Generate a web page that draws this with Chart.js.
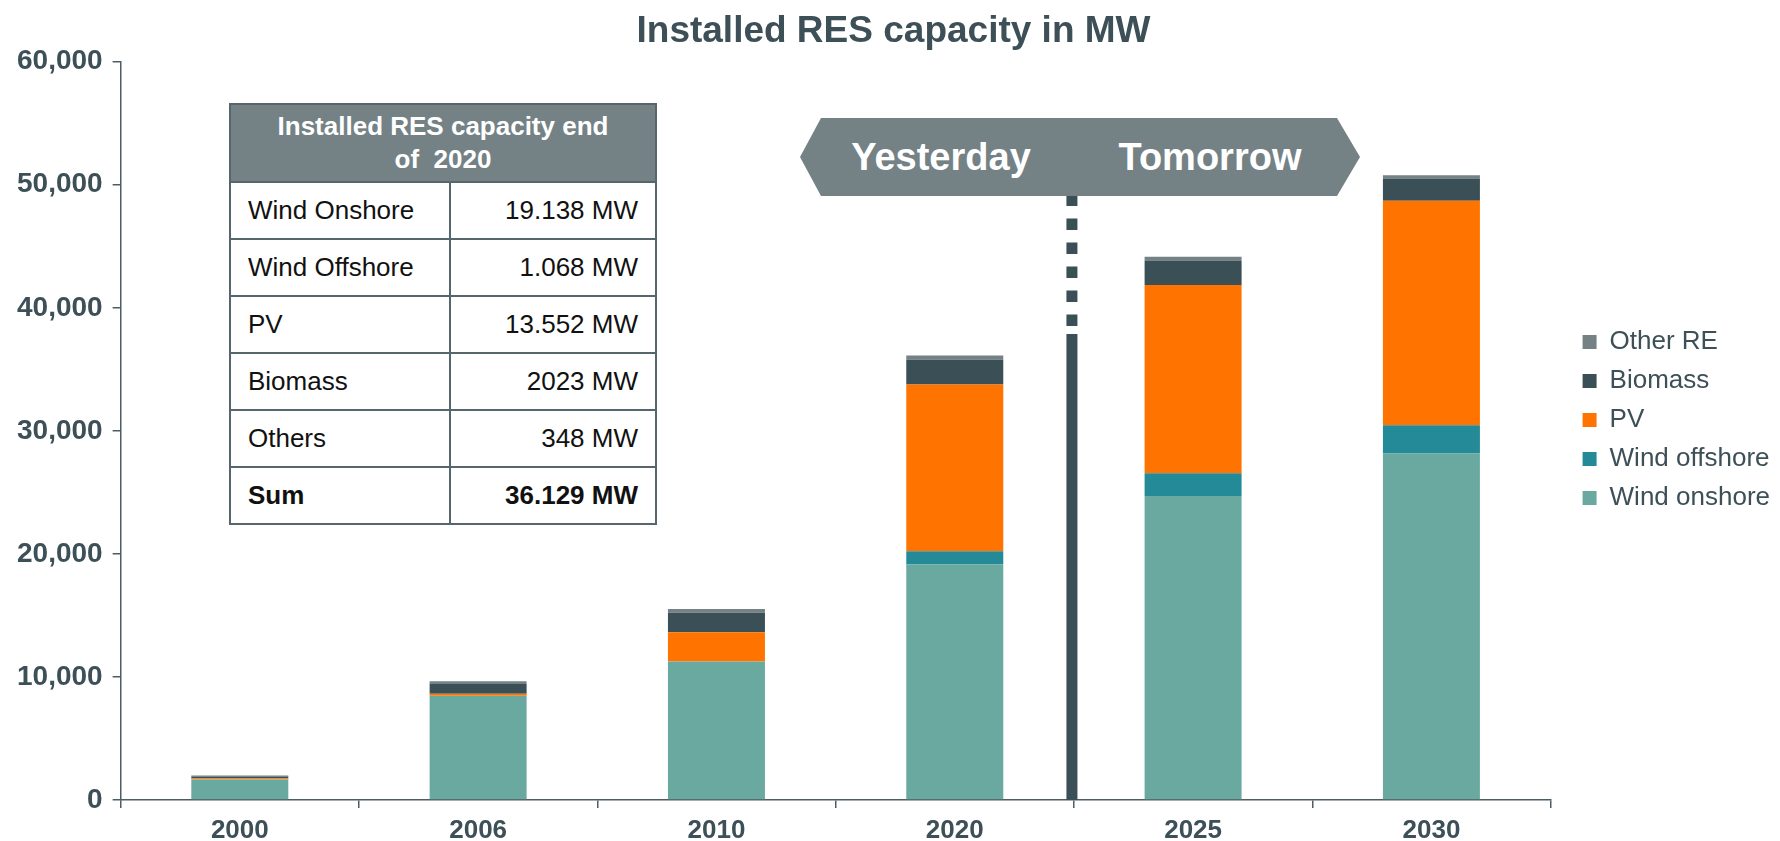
<!DOCTYPE html>
<html>
<head>
<meta charset="utf-8">
<script src="https://cdn.jsdelivr.net/npm/chart.js@4.4.1/dist/chart.umd.min.js"></script>
<style>
  html, body { margin: 0; padding: 0; background: #fff; }
  #wrap { position: relative; width: 1780px; height: 841px; font-family: "Liberation Sans", Arial, sans-serif; }
  #chart { position: absolute; left: 0; top: 0; }
  #resTable { position: absolute; left: 229px; top: 103px; width: 428px; border-collapse: collapse; background: #fff; }
  #resTable td, #resTable th { border: 2px solid #56666c; font-size: 26px; color: #111; padding: 0 17px; height: 55px; }
  #resTable th { background: #748286; color: #fff; font-weight: bold; line-height: 33px; height: 76px; }
  #resTable td.val { text-align: right; }
  #resTable tr.sum td { font-weight: bold; }
  #banner { position: absolute; left: 800px; top: 118px; width: 560px; height: 78px; background: #748286;
    clip-path: polygon(21px 0, 537px 0, 560px 39px, 537px 78px, 21px 78px, 0 39px); }
  #banner span { position: absolute; top: 0; line-height: 78px; font-size: 38px; font-weight: bold; color: #fff; text-align: center; }
</style>
</head>
<body>
<div id="wrap">
  <canvas id="chart" width="1780" height="841"></canvas>
  <table id="resTable"></table>
  <div id="banner">
    <span style="left:0; width:282px;">Yesterday</span>
    <span style="left:270px; width:280px;">Tomorrow</span>
  </div>
</div>
<script>
// categories
const years = ['2000', '2006', '2010', '2020', '2025', '2030'];

// installed capacity per source, MW
const windOnshore  = [1660, 8480, 11250, 19138, 24700, 28150];
const windOffshore = [0, 0, 0, 1068, 1850, 2300];
const pv           = [110, 160, 2390, 13552, 15300, 18250];
const biomass      = [130, 790, 1580, 2023, 2000, 1800];
const otherRE      = [100, 220, 300, 348, 300, 270];

// side table, end of 2020
const tableHead = ['Installed RES capacity end', 'of&nbsp; 2020'];
const tableLabels = ['Wind Onshore', 'Wind Offshore', 'PV', 'Biomass', 'Others', 'Sum'];
const tableValues = ['19.138 MW', '1.068 MW', '13.552 MW', '2023 MW', '348 MW', '36.129 MW'];

const textColor = '#3d4f57';
const axisColor = '#4d5d64';

// build the table
const table = document.getElementById('resTable');
let html = '<tr><th colspan="2">' + tableHead.join('<br>') + '</th></tr>';
tableLabels.forEach((lab, i) => {
    const cls = lab === 'Sum' ? ' class="sum"' : '';
    html += '<tr' + cls + '><td style="width:184px">' + lab + '</td><td class="val">' + tableValues[i] + '</td></tr>';
});
table.innerHTML = html;

// vertical divider between 2020 and 2025 (dashed under the banner, then solid)
const dividerPlugin = {
    id: 'divider',
    afterDatasetsDraw(chart) {
        const x = chart.scales.x;
        const area = chart.chartArea;
        const xPos = (x.getPixelForValue(3) + x.getPixelForValue(4)) / 2 - 2;
        const ctx = chart.ctx;
        ctx.save();
        ctx.strokeStyle = '#3a4f56';
        ctx.lineWidth = 11;
        ctx.setLineDash([11.5, 12.5]);
        ctx.beginPath();
        ctx.moveTo(xPos, 194.5);
        ctx.lineTo(xPos, 327);
        ctx.stroke();
        ctx.setLineDash([]);
        ctx.beginPath();
        ctx.moveTo(xPos, 334);
        ctx.lineTo(xPos, area.bottom);
        ctx.stroke();
        ctx.restore();
    }
};

Chart.defaults.font.family = '"Liberation Sans", Arial, sans-serif';

const ctx = document.getElementById('chart').getContext('2d');
new Chart(ctx, {
    type: 'bar',
    data: {
        labels: years,
        datasets: [
            { label: 'Wind onshore', data: windOnshore, backgroundColor: '#6aa9a0' },
            { label: 'Wind offshore', data: windOffshore, backgroundColor: '#258a98' },
            { label: 'PV', data: pv, backgroundColor: '#ff7400' },
            { label: 'Biomass', data: biomass, backgroundColor: '#3a4f56' },
            { label: 'Other RE', data: otherRE, backgroundColor: '#748286' },
        ],
    },
    options: {
        responsive: false,
        animation: false,
        layout: { padding: { left: 7, right: 0, top: 0, bottom: 0 } },
        datasets: {
            bar: { borderWidth: 0, categoryPercentage: 1, barPercentage: 0.407 }
        },
        scales: {
            x: {
                stacked: true,
                grid: { drawOnChartArea: false, tickLength: 8, color: axisColor, lineWidth: 1.5 },
                border: { color: axisColor, width: 1.5 },
                ticks: { color: textColor, padding: 7, font: { size: 26, weight: 'bold' } },
                afterFit(scale) { scale.height = 41; },
            },
            y: {
                stacked: true,
                min: 0,
                max: 60000,
                grid: { drawOnChartArea: false, tickLength: 8, color: axisColor, lineWidth: 1.5 },
                border: { color: axisColor, width: 1.5 },
                ticks: { stepSize: 10000, color: textColor, padding: 10, font: { size: 28, weight: 'bold' } },
            },
            // empty axis that only keeps a gap between the plot and the legend
            spacer: {
                type: 'linear',
                axis: 'y',
                position: 'right',
                grid: { display: false },
                border: { display: false },
                ticks: { display: false },
                afterFit(scale) { scale.width = 19; },
            },
        },
        plugins: {
            title: {
                display: true,
                text: 'Installed RES capacity in MW',
                color: textColor,
                font: { size: 37, weight: 'bold', lineHeight: 1.1 },
                padding: { top: 11, bottom: 10 },
            },
            legend: {
                position: 'right',
                align: 'start',
                reverse: true,
                title: { display: true, text: '', padding: { top: 306, bottom: 0 }, font: { size: 10, lineHeight: 1 } },
                labels: { boxWidth: 14, boxHeight: 14, padding: 13, color: textColor, font: { size: 26 } },
            },
            tooltip: { enabled: false },
        },
    },
    plugins: [dividerPlugin],
});
</script>
</body>
</html>
